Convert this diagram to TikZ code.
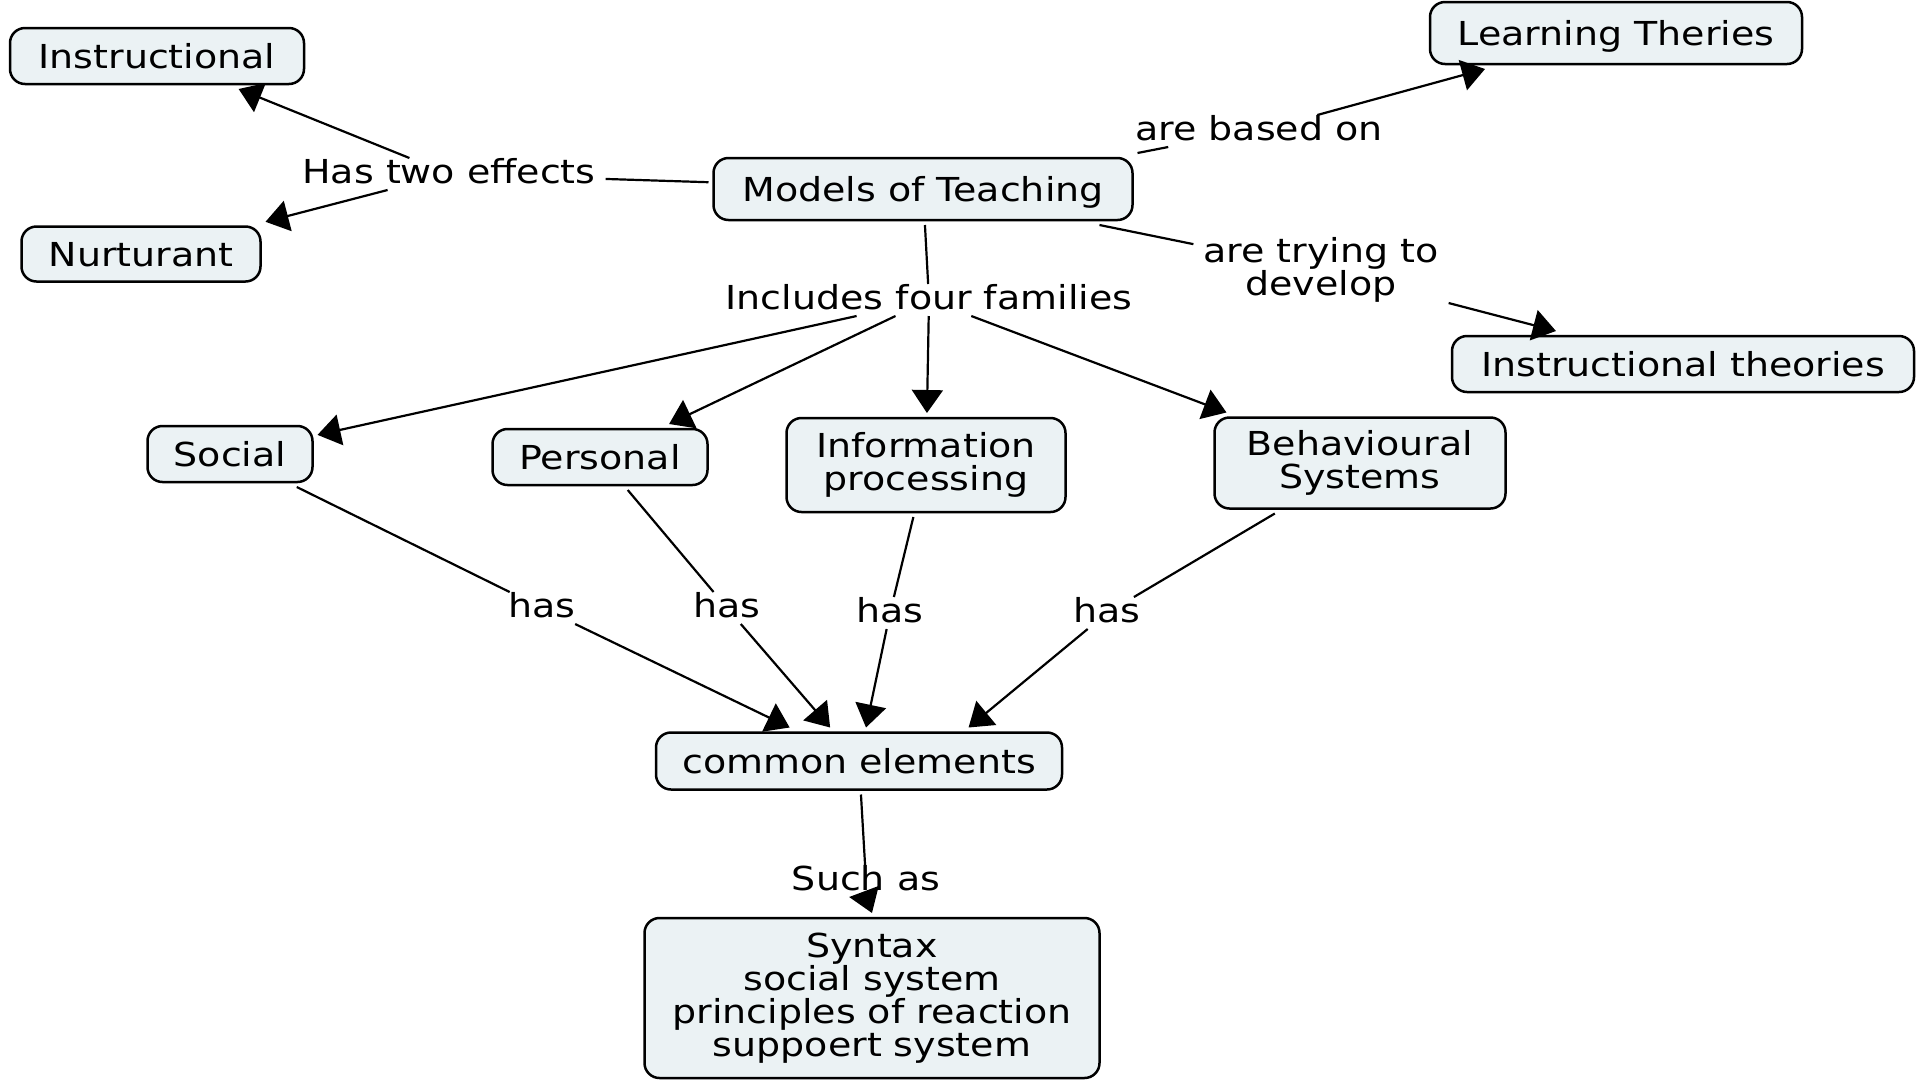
\documentclass[tikz,border=0pt]{standalone}
\usepackage{fontspec}
\setmainfont{DejaVu Sans}[FakeStretch=1.15]
\usetikzlibrary{arrows.meta}
\definecolor{conceptfill}{RGB}{235,242,244}
\begin{document}
\begin{tikzpicture}[x=1pt,y=-1pt,
  every node/.style={font=\fontsize{33}{33}\selectfont},
  concept/.style={draw=black, line width=2.5pt, fill=conceptfill, rounded corners=15pt,
    inner sep=0pt, outer sep=5pt, align=center},
  single/.style={text height=24pt, text depth=0pt},
  phrase/.style={inner xsep=10pt, inner ysep=1pt, outer sep=0pt, align=center},
  oneline/.style={text height=24pt, text depth=6pt},
  link/.style={line width=2.2pt},
  arr/.style={link, -{Triangle[length=23pt,width=31pt]}}
]
\useasboundingbox (0,0) rectangle (1920,1080);

% concepts
\node[concept,single,minimum width=294pt,minimum height=56pt] (instr) at (157,56) {Instructional};
\node[concept,single,minimum width=239pt,minimum height=55pt] (nurt) at (141,254) {Nurturant};
\node[concept,single,minimum width=419pt,minimum height=62pt] (models) at (923,189) {Models of Teaching};
\node[concept,single,minimum width=372pt,minimum height=62pt] (learn) at (1616,33) {Learning Theries};
\node[concept,single,minimum width=462pt,minimum height=56pt] (itheo) at (1683,364) {Instructional theories};
\node[concept,single,minimum width=165pt,minimum height=56pt] (social) at (230,454) {Social};
\node[concept,single,minimum width=215pt,minimum height=56pt] (personal) at (600,457) {Personal};
\node[concept,minimum width=279pt,minimum height=94pt] (info) at (926,465) {Information\\processing};
\node[concept,minimum width=291pt,minimum height=91pt] (behav) at (1360,463) {Behavioural\\Systems};
\node[concept,single,minimum width=406pt,minimum height=57pt] (common) at (859,761) {common elements};
\node[concept,minimum width=455pt,minimum height=160pt] (syntax) at (872,998)
  {Syntax\\social system\\principles of reaction\\suppoert system};

% linking phrases
\node[phrase,oneline] (hastwo) at (449,174) {Has two effects};
\node[phrase,oneline] (basedon) at (1259,131) {are based on};
\node[phrase] (trying) at (1321,270) {are trying to\\develop};
\node[phrase,oneline] (includes) at (929,300) {Includes four families};
\node[phrase,oneline] (has1) at (542,608) {has};
\node[phrase,oneline] (has2) at (727,608) {has};
\node[phrase,oneline] (has3) at (890,613) {has};
\node[phrase,oneline] (has4) at (1107,613) {has};
\node[phrase,oneline] (suchas) at (866,881) {Such as};

% connectors
\draw[link] (models) -- (hastwo);
\draw[arr] (hastwo) -- (instr);
\draw[arr] (hastwo) -- (nurt);
\draw[link] (models.north east) -- (basedon.190);
\draw[arr] (basedon) -- (learn);
\draw[link] (models) -- (trying);
\draw[arr] (trying) -- (itheo);
\draw[link] (models) -- (includes);
\draw[arr] (includes) -- (social);
\draw[arr] (includes) -- (personal);
\draw[arr] (includes) -- (info);
\draw[arr] (includes) -- (behav);
\draw[link] (social) -- (has1);
\draw[arr] (has1) -- (common);
\draw[link] (personal) -- (has2);
\draw[arr] (has2) -- (common);
\draw[link] (info) -- (has3);
\draw[arr] (has3) -- (common);
\draw[link] (behav) -- (has4);
\draw[arr] (has4) -- (common.17);
\draw[link] (common) -- (suchas);
\draw[arr] (suchas.south) -- (syntax.north);
\end{tikzpicture}
\end{document}
